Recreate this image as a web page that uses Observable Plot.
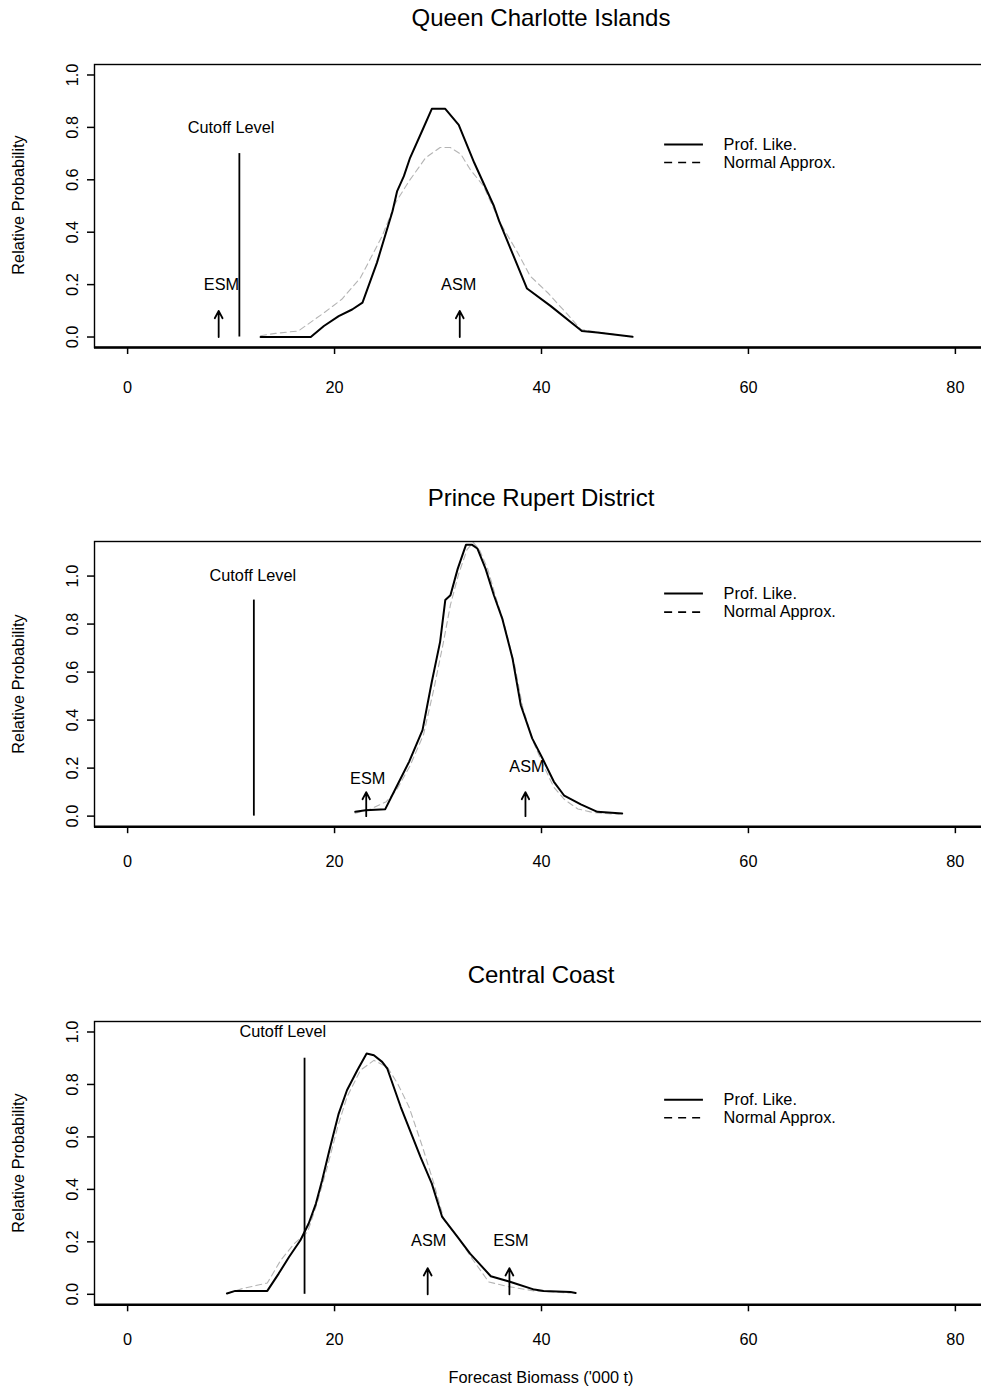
<!DOCTYPE html>
<html>
<head>
<meta charset="utf-8">
<script src="https://cdn.jsdelivr.net/npm/d3@7"></script>
<script src="https://cdn.jsdelivr.net/npm/@observablehq/plot@0.6"></script>
<style>
  html, body { margin: 0; padding: 0; background: #fff; overflow: hidden; }
  #fig { position: relative; width: 990px; height: 1389px; overflow: hidden;
         font-family: "Liberation Sans", Arial, Helvetica, sans-serif; color: #000; background: #fff; }
  .title { position: absolute; left: 541px; transform: translate(-50%, -50%); font-size: 24px; white-space: nowrap; }
  .ylab { position: absolute; left: 18px; transform: translate(-50%, -50%) rotate(-90deg); font-size: 16.3px; white-space: nowrap; }
  .xlab { position: absolute; left: 541px; transform: translate(-50%, -50%); font-size: 16.3px; white-space: nowrap; }
  .panel { position: absolute; left: 0; }
</style>
</head>
<body>
<div id="fig"></div>
<script>
// ---------- data ----------
const titles = ["Queen Charlotte Islands", "Prince Rupert District", "Central Coast"];
const xTicks = [0, 20, 40, 60, 80];
const yTicks = [0, 0.2, 0.4, 0.6, 0.8, 1.0];
const xDomain = [-3.2, 83.2];
const seriesNames = ["Prof. Like.", "Normal Approx."];
const xTitle = "Forecast Biomass ('000 t)";
const yTitle = "Relative Probability";

// Queen Charlotte Islands
const qciProfX = [12.85, 17.7, 18.97, 20.4, 21.7, 22.7, 24.1, 25.6, 26.05, 26.7, 27.3, 28.5, 29.4, 30.7, 32.0, 33.5, 35.4, 35.9, 38.6, 40.9, 43.9, 45.4, 47.0, 48.8];
const qciProfY = [0.0, 0.0, 0.042, 0.08, 0.105, 0.131, 0.284, 0.48, 0.557, 0.614, 0.684, 0.79, 0.871, 0.871, 0.81, 0.665, 0.50, 0.443, 0.185, 0.118, 0.023, 0.017, 0.010, 0.001];
const qciNormX = [12.85, 14.3, 16.5, 19.0, 20.7, 22.5, 24.6, 25.9, 27.2, 28.8, 30.2, 31.2, 32.2, 33.1, 34.4, 36.0, 37.7, 38.9, 40.6, 42.5, 43.8, 45.7, 47.0];
const qciNormY = [0.005, 0.014, 0.023, 0.093, 0.144, 0.226, 0.385, 0.513, 0.595, 0.684, 0.723, 0.723, 0.698, 0.64, 0.576, 0.436, 0.322, 0.233, 0.169, 0.087, 0.029, 0.017, 0.01];

// Prince Rupert District
const prdProfX = [22.0, 23.0, 24.9, 25.9, 27.2, 28.5, 29.4, 30.2, 30.7, 31.2, 31.9, 32.7, 33.3, 33.8, 34.6, 35.4, 36.2, 37.2, 38.0, 39.1, 40.1, 41.2, 42.2, 43.8, 45.4, 47.8];
const prdProfY = [0.018, 0.024, 0.029, 0.115, 0.226, 0.358, 0.56, 0.726, 0.90, 0.92, 1.03, 1.13, 1.13, 1.115, 1.03, 0.92, 0.824, 0.657, 0.462, 0.324, 0.24, 0.143, 0.085, 0.049, 0.018, 0.011];
const prdNormX = [22.0, 23.5, 25.0, 26.0, 27.3, 28.6, 29.6, 30.5, 31.2, 32.0, 32.8, 33.4, 34.0, 34.8, 35.6, 36.4, 37.4, 38.2, 39.2, 40.2, 41.2, 42.2, 43.5, 45.0, 46.5, 47.5];
const prdNormY = [0.012, 0.03, 0.06, 0.11, 0.21, 0.34, 0.53, 0.72, 0.88, 1.01, 1.11, 1.14, 1.11, 1.03, 0.91, 0.80, 0.63, 0.45, 0.31, 0.21, 0.12, 0.07, 0.03, 0.015, 0.01, 0.008];

// Central Coast
const ccProfX = [9.6, 10.4, 13.5, 14.6, 15.6, 16.7, 17.5, 18.2, 18.8, 19.5, 20.4, 21.2, 22.2, 23.1, 23.8, 24.6, 25.1, 26.4, 28.3, 29.4, 30.4, 31.9, 33.1, 35.1, 36.7, 39.3, 40.2, 42.8, 43.3];
const ccProfY = [0.003, 0.013, 0.013, 0.079, 0.142, 0.206, 0.27, 0.346, 0.435, 0.549, 0.689, 0.778, 0.854, 0.918, 0.911, 0.886, 0.86, 0.714, 0.524, 0.422, 0.295, 0.218, 0.155, 0.069, 0.051, 0.018, 0.013, 0.009, 0.005];
const ccNormX = [9.6, 11.1, 13.5, 14.8, 16.1, 17.4, 18.3, 19.3, 20.3, 21.2, 22.5, 23.8, 25.1, 26.1, 27.2, 28.5, 29.6, 30.6, 31.9, 33.4, 34.9, 36.7, 39.3, 42.8];
const ccNormY = [0.003, 0.022, 0.043, 0.13, 0.193, 0.238, 0.346, 0.485, 0.638, 0.752, 0.854, 0.892, 0.866, 0.803, 0.714, 0.562, 0.422, 0.282, 0.218, 0.13, 0.047, 0.03, 0.013, 0.005];

// reference levels (biomass) and annotation heights (relative probability)
const cutoffX = [10.8, 12.2, 17.1];
const cutoffTop = [0.70, 0.90, 0.90];
const cutoffLabelX = [10.0, 12.1, 15.0];
const cutoffLabelY = [0.80, 1.0, 1.0];
const esmX = [8.8, 23.06, 36.9];
const esmLabelX = [9.07, 23.2, 37.05];
const esmLabelY = [0.2, 0.155, 0.203];
const asmX = [32.1, 38.45, 29.0];
const asmLabelX = [32.0, 38.6, 29.1];
const asmLabelY = [0.2, 0.205, 0.203];
const arrowTop = 0.1;
const yMax = [1.0, 1.1, 1.0];
const legendY = [[0.735, 0.666], [0.927, 0.85], [0.742, 0.673]];
const legendLineX = [51.9, 55.65];
const legendTextX = 57.6;

// ---------- layout ----------
const layout = [
  {frameTop: 63.5, frameH: 283, titleY: 18, xPad: 27},
  {frameTop: 541.4, frameH: 285.2, titleY: 498, xPad: 22},
  {frameTop: 1021.2, frameH: 283.3, titleY: 975, xPad: 22}
];
const profX = [qciProfX, prdProfX, ccProfX], profY = [qciProfY, prdProfY, ccProfY];
const normX = [qciNormX, prdNormX, ccNormX], normY = [qciNormY, prdNormY, ccNormY];

const FONT = '"Liberation Sans", Arial, Helvetica, sans-serif';
const FS = 16.3;
const fig = document.getElementById("fig");

for (let i = 0; i < 3; i++) {
  const L = layout[i];
  const mt = 4, mb = 50;
  const yDomain = [-0.04 * yMax[i], yMax[i] * 1.04];
  const prof = profX[i].map((x, j) => ({x, y: profY[i][j]}));
  const norm = normX[i].map((x, j) => ({x, y: normY[i][j]}));
  const cut = [{x: cutoffX[i], y1: 0, y2: cutoffTop[i]}];
  const arrows = [{x: esmX[i], y1: 0, y2: arrowTop}, {x: asmX[i], y1: 0, y2: arrowTop}];
  const labels = [
    {x: cutoffLabelX[i], y: cutoffLabelY[i], t: "Cutoff Level"},
    {x: esmLabelX[i], y: esmLabelY[i], t: "ESM"},
    {x: asmLabelX[i], y: asmLabelY[i], t: "ASM"}
  ];
  const legSolid = [{y: legendY[i][0], x1: legendLineX[0], x2: legendLineX[1]}];
  const legDash = [{y: legendY[i][1], x1: legendLineX[0], x2: legendLineX[1]}];
  const legText = [{x: legendTextX, y: legendY[i][0], t: seriesNames[0]}, {x: legendTextX, y: legendY[i][1], t: seriesNames[1]}];

  const plot = Plot.plot({
    width: 990,
    height: mt + L.frameH + mb,
    marginLeft: 94, marginRight: 2, marginTop: mt, marginBottom: mb,
    style: {fontFamily: FONT, fontSize: FS + "px", background: "white", maxWidth: "none", color: "black"},
    x: {domain: xDomain},
    y: {domain: yDomain},
    marks: [
      Plot.axisX({ticks: xTicks, tickSize: 7, tickPadding: L.xPad, tickFormat: d => String(d), fontSize: FS, strokeWidth: 1.5}),
      Plot.axisY({ticks: yTicks, tickSize: 7, tickPadding: 15, tickRotate: -90, textAnchor: "middle", lineAnchor: "middle",
                  tickFormat: d3.format(".1f"), fontSize: FS, strokeWidth: 1.5}),
      Plot.line(norm, {x: "x", y: "y", stroke: "#b4b4b4", strokeWidth: 1.1, strokeDasharray: "6,4"}),
      Plot.line(prof, {x: "x", y: "y", stroke: "black", strokeWidth: 2}),
      Plot.ruleX(cut, {x: "x", y1: "y1", y2: "y2", stroke: "black", strokeWidth: 1.8}),
      Plot.arrow(arrows, {x1: "x", x2: "x", y1: "y1", y2: "y2", stroke: "black", strokeWidth: 1.8, headLength: 7, headAngle: 55}),
      Plot.text(labels, {x: "x", y: "y", text: "t", fontSize: FS, textAnchor: "middle", lineAnchor: "middle", fill: "black"}),
      Plot.ruleY(legSolid, {y: "y", x1: "x1", x2: "x2", stroke: "black", strokeWidth: 2}),
      Plot.ruleY(legDash, {y: "y", x1: "x1", x2: "x2", stroke: "black", strokeWidth: 1.6, strokeDasharray: "8,6"}),
      Plot.text(legText, {x: "x", y: "y", text: "t", fontSize: FS, textAnchor: "start", lineAnchor: "middle", fill: "black"}),
      Plot.frame({stroke: "black", strokeWidth: 1.4}),
      Plot.ruleY([yDomain[0]], {stroke: "black", strokeWidth: 2.6})
    ]
  });
  plot.classList.add("panel");
  plot.style.top = (L.frameTop - mt) + "px";
  fig.appendChild(plot);

  const t = document.createElement("div");
  t.className = "title"; t.textContent = titles[i]; t.style.top = L.titleY + "px";
  fig.appendChild(t);

  const yl = document.createElement("div");
  yl.className = "ylab"; yl.textContent = yTitle; yl.style.top = (L.frameTop + L.frameH / 2) + "px";
  fig.appendChild(yl);
}
const xl = document.createElement("div");
xl.className = "xlab"; xl.textContent = xTitle; xl.style.top = "1377px";
fig.appendChild(xl);
</script>
</body>
</html>
